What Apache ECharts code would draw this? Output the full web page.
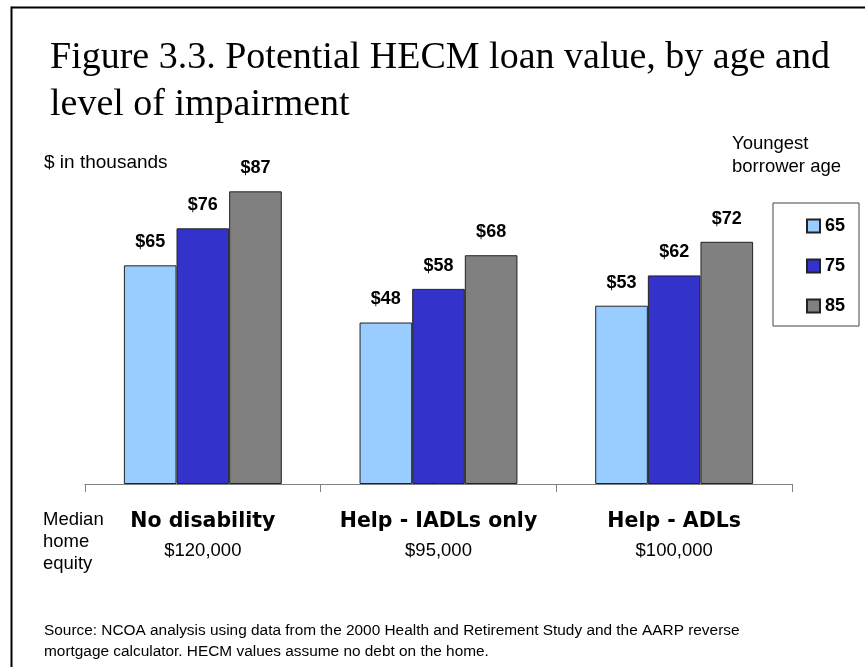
<!DOCTYPE html>
<html>
<head>
<meta charset="utf-8">
<script src="https://cdn.jsdelivr.net/npm/echarts@6/dist/echarts.min.js"></script>
<style>
html,body{margin:0;padding:0;background:#fff;}
#c{width:865px;height:667px;}
</style>
</head>
<body>
<div id="c"></div>
<script>
var categories = ['No disability', 'Help - IADLs only', 'Help - ADLs'];
var equity = ['$120,000', '$95,000', '$100,000'];
var ageNames = ['65', '75', '85'];
var age65 = [65, 48, 53];
var age75 = [76, 58, 62];
var age85 = [87, 68, 72];
var colors = ['#99CCFF', '#3333CC', '#808080'];

var chart = echarts.init(document.getElementById('c'), null, {renderer: 'canvas'});

function mkSeries(name, data, color) {
  return {
    name: name,
    type: 'bar',
    data: data,
    barGap: '0%',
    barCategoryGap: '33%',
    itemStyle: {color: color, borderColor: '#222', borderWidth: 1},
    label: {
      show: true, position: 'top', distance: 14,
      formatter: function (p) { return '$' + p.value; },
      fontFamily: 'Liberation Sans, Arial', fontWeight: 'bold', fontSize: 18, lineHeight: 18, color: '#000'
    }
  };
}

var option = {
  backgroundColor: '#fff',
  animation: false,
  title: {
    text: 'Figure 3.3. Potential HECM loan value, by age and\nlevel of impairment',
    left: 45, top: 30,
    textStyle: {fontFamily: 'Liberation Serif', fontWeight: 'normal', fontSize: 38, lineHeight: 47, color: '#000'}
  },
  legend: {
    orient: 'vertical',
    left: 773, top: 203,
    padding: [14, 14, 11, 33],
    itemGap: 22,
    itemWidth: 13, itemHeight: 13,
    icon: 'rect',
    borderColor: '#444', borderWidth: 1,
    textStyle: {fontFamily: 'Liberation Sans, Arial', fontWeight: 'bold', fontSize: 18, lineHeight: 18, color: '#000'},
    data: ageNames
  },
  grid: {left: 85, right: 73, top: 147.6, bottom: 183},
  xAxis: {
    type: 'category',
    data: categories,
    axisLine: {lineStyle: {color: '#808080', width: 1}},
    axisTick: {show: true, length: 8, lineStyle: {color: '#808080'}},
    axisLabel: {
      margin: 23,
      formatter: function (v, i) { return '{a|' + v + '}\n{b|' + equity[i] + '}'; },
      rich: {
        a: {fontFamily: 'DejaVu Sans', fontWeight: 'bold', fontSize: 20.5, lineHeight: 29, color: '#000'},
        b: {fontFamily: 'Liberation Sans, Arial', fontSize: 18.5, lineHeight: 29, color: '#000'}
      }
    }
  },
  yAxis: {type: 'value', min: 0, max: 100, show: false, splitLine: {show: false}},
  series: [
    mkSeries(ageNames[0], age65, colors[0]),
    mkSeries(ageNames[1], age75, colors[1]),
    mkSeries(ageNames[2], age85, colors[2])
  ],
  graphic: [
    {type: 'line', shape: {x1: 11.5, y1: 7.5, x2: 865, y2: 7.5}, style: {stroke: '#000', lineWidth: 2}},
    {type: 'line', shape: {x1: 11.5, y1: 6.5, x2: 11.5, y2: 667}, style: {stroke: '#000', lineWidth: 2}},
    {type: 'text', left: 44, top: 153, style: {text: '$ in thousands', font: '19px "Liberation Sans", Arial', fill: '#000'}},
    {type: 'text', right: 24, top: 132, style: {text: 'Youngest\nborrower age', font: '18.5px "Liberation Sans", Arial', lineHeight: 23, fill: '#000', align: 'right'}},
    {type: 'text', left: 43, top: 509, style: {text: 'Median\nhome\nequity', font: '18.5px "Liberation Sans", Arial', lineHeight: 22, fill: '#000'}},
    {type: 'text', left: 44, top: 620, style: {text: 'Source: NCOA analysis using data from the 2000 Health and Retirement Study and the AARP reverse\nmortgage calculator. HECM values assume no debt on the home.', font: '15.4px "Liberation Sans", Arial', lineHeight: 21, fill: '#000'}}
  ]
};
chart.setOption(option);
</script>
</body>
</html>
